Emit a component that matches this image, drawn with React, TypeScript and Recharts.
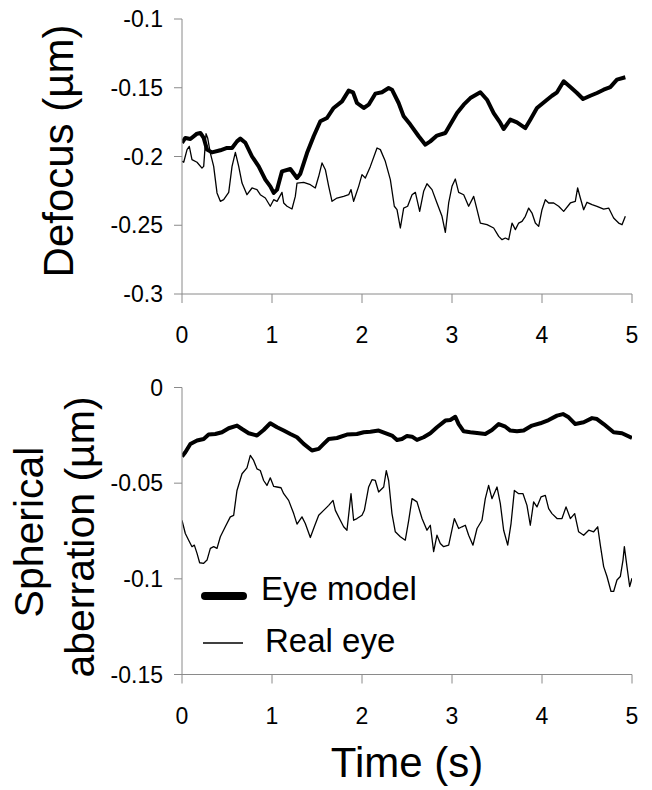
import React from 'react';
import { LineChart, Line, XAxis, YAxis, Legend } from 'recharts';

// ---- Data (time in s, aberrations in µm) ----
const defocusModelTime = [0, 0.037, 0.093, 0.167, 0.204, 0.241, 0.278, 0.333, 0.426, 0.5, 0.556, 0.611, 0.648, 0.704, 0.778, 0.852, 0.926, 0.981, 1.019, 1.056, 1.111, 1.204, 1.278, 1.315, 1.389, 1.463, 1.537, 1.611, 1.685, 1.778, 1.852, 1.9, 1.944, 2.019, 2.074, 2.148, 2.222, 2.296, 2.333, 2.407, 2.463, 2.537, 2.63, 2.704, 2.759, 2.833, 2.926, 2.981, 3.056, 3.13, 3.204, 3.315, 3.389, 3.463, 3.537, 3.574, 3.648, 3.722, 3.815, 3.87, 3.944, 4.056, 4.111, 4.167, 4.241, 4.315, 4.389, 4.456, 4.537, 4.611, 4.685, 4.759, 4.833, 4.926];
const defocusModel = [-0.19, -0.1865, -0.1873, -0.1834, -0.1829, -0.1865, -0.195, -0.197, -0.1955, -0.1938, -0.1938, -0.189, -0.187, -0.19, -0.2, -0.2072, -0.2168, -0.2217, -0.2265, -0.2241, -0.2108, -0.2091, -0.2156, -0.2125, -0.1975, -0.1853, -0.1744, -0.172, -0.1647, -0.1599, -0.1521, -0.1533, -0.1611, -0.1647, -0.1623, -0.1543, -0.1533, -0.1502, -0.1514, -0.1611, -0.1708, -0.1768, -0.1853, -0.1914, -0.189, -0.1848, -0.1829, -0.1768, -0.1684, -0.1623, -0.1575, -0.1533, -0.1587, -0.1684, -0.1756, -0.18, -0.1732, -0.1752, -0.1793, -0.1732, -0.1647, -0.1587, -0.1558, -0.1533, -0.1453, -0.1495, -0.1538, -0.1582, -0.1558, -0.1538, -0.1514, -0.1495, -0.1441, -0.1424];

const defocusRealTime = [0, 0.019, 0.056, 0.081, 0.111, 0.167, 0.222, 0.241, 0.267, 0.285, 0.315, 0.352, 0.389, 0.426, 0.463, 0.519, 0.556, 0.593, 0.63, 0.667, 0.722, 0.778, 0.833, 0.87, 0.926, 0.981, 1.019, 1.056, 1.111, 1.13, 1.167, 1.222, 1.259, 1.278, 1.352, 1.426, 1.481, 1.519, 1.556, 1.593, 1.63, 1.667, 1.722, 1.796, 1.852, 1.878, 1.907, 1.963, 2.0, 2.037, 2.093, 2.167, 2.204, 2.259, 2.315, 2.359, 2.389, 2.426, 2.463, 2.507, 2.556, 2.593, 2.641, 2.685, 2.722, 2.778, 2.833, 2.889, 2.926, 2.963, 3.0, 3.037, 3.074, 3.13, 3.185, 3.241, 3.278, 3.315, 3.389, 3.463, 3.519, 3.556, 3.593, 3.63, 3.667, 3.704, 3.741, 3.778, 3.815, 3.852, 3.889, 3.926, 3.963, 4.0, 4.037, 4.074, 4.13, 4.185, 4.241, 4.315, 4.37, 4.396, 4.426, 4.463, 4.5, 4.556, 4.611, 4.685, 4.741, 4.796, 4.852, 4.889, 4.926];
const defocusReal = [-0.2035, -0.2042, -0.195, -0.1926, -0.2023, -0.2042, -0.2084, -0.2072, -0.1834, -0.1865, -0.1975, -0.2072, -0.2265, -0.2326, -0.2314, -0.2261, -0.2072, -0.197, -0.2072, -0.2193, -0.2278, -0.2229, -0.2241, -0.2278, -0.2302, -0.2362, -0.2314, -0.2326, -0.2261, -0.2338, -0.2362, -0.2382, -0.229, -0.2193, -0.2188, -0.2205, -0.2229, -0.2144, -0.2047, -0.2096, -0.2217, -0.2326, -0.2302, -0.229, -0.2278, -0.2241, -0.2326, -0.2217, -0.2132, -0.2156, -0.2072, -0.1938, -0.195, -0.2035, -0.2168, -0.2362, -0.2387, -0.252, -0.2375, -0.2362, -0.2278, -0.2261, -0.2399, -0.2253, -0.2198, -0.2241, -0.2338, -0.2435, -0.2552, -0.2338, -0.2217, -0.2164, -0.2261, -0.2278, -0.2362, -0.229, -0.2387, -0.2484, -0.2496, -0.252, -0.2581, -0.2605, -0.2593, -0.2605, -0.2484, -0.2532, -0.2484, -0.2472, -0.2435, -0.2375, -0.2411, -0.2484, -0.2508, -0.2387, -0.2314, -0.2338, -0.2338, -0.2362, -0.2399, -0.2338, -0.2326, -0.2229, -0.2302, -0.2387, -0.2333, -0.235, -0.2362, -0.2382, -0.2375, -0.2447, -0.2484, -0.2496, -0.2435];

const sphericalModelTime = [0, 0.037, 0.093, 0.167, 0.241, 0.296, 0.37, 0.444, 0.519, 0.611, 0.667, 0.741, 0.833, 0.907, 0.981, 1.056, 1.13, 1.204, 1.278, 1.352, 1.444, 1.519, 1.574, 1.63, 1.722, 1.833, 1.944, 2.019, 2.093, 2.185, 2.259, 2.333, 2.389, 2.444, 2.5, 2.556, 2.611, 2.685, 2.759, 2.833, 2.926, 2.981, 3.037, 3.074, 3.13, 3.204, 3.278, 3.37, 3.444, 3.519, 3.593, 3.648, 3.722, 3.796, 3.889, 3.981, 4.074, 4.167, 4.233, 4.296, 4.37, 4.463, 4.556, 4.611, 4.685, 4.796, 4.889, 5.0];
const sphericalModel = [-0.0361, -0.0338, -0.0295, -0.0277, -0.0269, -0.0246, -0.0243, -0.0234, -0.0213, -0.0199, -0.0217, -0.0239, -0.0251, -0.0222, -0.0187, -0.0208, -0.0225, -0.0243, -0.026, -0.0295, -0.0329, -0.0321, -0.0295, -0.0269, -0.0264, -0.0246, -0.0243, -0.0234, -0.0231, -0.0225, -0.0238, -0.0251, -0.0274, -0.0269, -0.0253, -0.0257, -0.0274, -0.026, -0.0239, -0.0208, -0.0173, -0.017, -0.0153, -0.0191, -0.0229, -0.0234, -0.0238, -0.0243, -0.0222, -0.0191, -0.0205, -0.0225, -0.0229, -0.0225, -0.0199, -0.0187, -0.017, -0.0147, -0.0139, -0.0156, -0.0191, -0.0182, -0.016, -0.0165, -0.0191, -0.0234, -0.0239, -0.0264];

const sphericalRealTime = [0, 0.037, 0.074, 0.111, 0.137, 0.167, 0.196, 0.241, 0.278, 0.315, 0.352, 0.389, 0.426, 0.481, 0.537, 0.574, 0.611, 0.667, 0.722, 0.759, 0.796, 0.833, 0.87, 0.907, 0.944, 0.981, 1.019, 1.056, 1.1, 1.13, 1.185, 1.241, 1.278, 1.333, 1.37, 1.426, 1.47, 1.519, 1.574, 1.63, 1.678, 1.704, 1.759, 1.796, 1.833, 1.878, 1.907, 1.944, 2.0, 2.026, 2.074, 2.111, 2.148, 2.185, 2.241, 2.27, 2.296, 2.333, 2.37, 2.426, 2.481, 2.519, 2.556, 2.611, 2.667, 2.722, 2.759, 2.796, 2.833, 2.87, 2.907, 2.963, 3.026, 3.074, 3.111, 3.148, 3.185, 3.233, 3.278, 3.333, 3.37, 3.407, 3.444, 3.5, 3.537, 3.574, 3.619, 3.656, 3.693, 3.741, 3.789, 3.833, 3.87, 3.907, 3.944, 3.989, 4.037, 4.074, 4.111, 4.167, 4.222, 4.267, 4.315, 4.363, 4.407, 4.463, 4.519, 4.574, 4.619, 4.648, 4.685, 4.722, 4.767, 4.796, 4.833, 4.87, 4.9, 4.915, 4.944, 4.974, 5.0];
const sphericalReal = [-0.0694, -0.0763, -0.0798, -0.0832, -0.0824, -0.0867, -0.0916, -0.0919, -0.0902, -0.0841, -0.0832, -0.0841, -0.078, -0.0728, -0.0676, -0.0668, -0.0538, -0.0451, -0.042, -0.0355, -0.0381, -0.0425, -0.0434, -0.0486, -0.0512, -0.0472, -0.0517, -0.052, -0.0524, -0.0555, -0.059, -0.0659, -0.0714, -0.0676, -0.0711, -0.0784, -0.0728, -0.0668, -0.0642, -0.0616, -0.059, -0.0642, -0.0694, -0.0728, -0.0746, -0.0555, -0.0694, -0.0685, -0.0668, -0.0642, -0.052, -0.0482, -0.0486, -0.0546, -0.052, -0.0434, -0.0486, -0.0659, -0.0754, -0.078, -0.0798, -0.0694, -0.0581, -0.0598, -0.0685, -0.0746, -0.072, -0.0858, -0.0772, -0.0815, -0.0832, -0.0824, -0.0685, -0.0737, -0.0728, -0.072, -0.0772, -0.0824, -0.0737, -0.0694, -0.0581, -0.0512, -0.0581, -0.052, -0.0607, -0.0746, -0.0824, -0.0711, -0.0538, -0.0555, -0.0555, -0.0616, -0.072, -0.0598, -0.0624, -0.0572, -0.0564, -0.0633, -0.0659, -0.0685, -0.0685, -0.0624, -0.0685, -0.0659, -0.0754, -0.0772, -0.0746, -0.0754, -0.0728, -0.0824, -0.0936, -0.0988, -0.1066, -0.1066, -0.1006, -0.0988, -0.0902, -0.0832, -0.0936, -0.104, -0.0997];

const timeTicks = [0, 1, 2, 3, 4, 5];
const defocusTicks = [-0.3, -0.25, -0.2, -0.15, -0.1];
const sphericalTicks = [-0.15, -0.1, -0.05, 0];
const seriesNames = ['Eye model', 'Real eye'];
const titles = { defocus: 'Defocus (µm)', sa1: 'Spherical', sa2: 'aberration (µm)', time: 'Time (s)' };

const zip = (ts: number[], vs: number[]) => ts.map((t, i) => ({ t, v: vs[i] }));

const FONT = '"Liberation Sans", Arial, Helvetica, sans-serif';
const AXIS = '#8a8a8a';
const tickStyle = { fill: '#000', fontSize: 23, fontFamily: FONT };
const widths: Record<string, number> = { 'Eye model': 4, 'Real eye': 1.3 };
const legendWidths: Record<string, number> = { 'Eye model': 8, 'Real eye': 1.5 };

const renderLegend = (props: any) => {
  const payload = props.payload || [];
  const rows = seriesNames.filter((n) => payload.some((p: any) => p.value === n));
  return (
    <svg width={260} height={100} style={{ display: 'block' }}>
      {rows.map((name, i) => {
        const y = i === 0 ? 26 : 73;
        return (
          <g key={name}>
            <line x1={i === 0 ? 12 : 10} x2={50} y1={y} y2={y} stroke="#000" strokeWidth={legendWidths[name]} strokeLinecap={i === 0 ? 'round' : 'butt'} />
            <text x={i === 0 ? 68 : 72} y={y + (i === 0 ? 4 : 9)} fontSize={33} fontFamily={FONT} fill="#000">{name}</text>
          </g>
        );
      })}
    </svg>
  );
};

function Panel(props: { top: number; height: number; marginTop: number; marginBottom: number; xHeight: number; domain: [number, number]; ticks: number[]; model: { t: number; v: number }[]; real: { t: number; v: number }[]; legend?: boolean }) {
  const { top, height, marginTop, marginBottom, xHeight, domain, ticks, model, real, legend } = props;
  return (
    <div style={{ position: 'absolute', left: 0, top, width: 652, height }}>
      <LineChart width={652} height={height} margin={{ top: marginTop, right: 20, bottom: marginBottom, left: 100 }}>
        <XAxis type="number" dataKey="t" domain={[0, 5]} ticks={timeTicks} interval={0} tickSize={9} tickMargin={24} height={xHeight} stroke={AXIS} tick={tickStyle} allowDataOverflow />
        <YAxis type="number" dataKey="v" domain={domain} ticks={ticks} interval={0} tickSize={8} tickMargin={11} width={82} stroke={AXIS} tick={tickStyle} allowDataOverflow />
        <Line data={model} type="linear" dataKey="v" name={seriesNames[0]} stroke="#000" strokeWidth={widths['Eye model']} strokeLinejoin="round" dot={false} activeDot={false} isAnimationActive={false} />
        <Line data={real} type="linear" dataKey="v" name={seriesNames[1]} stroke="#000" strokeWidth={widths['Real eye']} strokeLinejoin="round" dot={false} activeDot={false} isAnimationActive={false} />
        {legend ? (
          <Legend layout="horizontal" verticalAlign="middle" align="center" content={renderLegend} wrapperStyle={{ position: 'absolute', left: 193, top: 230, width: 260, height: 100 }} />
        ) : null}
      </LineChart>
    </div>
  );
}

export default function App() {
  return (
    <div style={{ position: 'absolute', left: 0, top: 0, width: 652, height: 790, background: '#fff' }}>
      <Panel top={0} height={360} marginTop={19} marginBottom={15} xHeight={51} domain={[-0.3, -0.1]} ticks={defocusTicks} model={zip(defocusModelTime, defocusModel)} real={zip(defocusRealTime, defocusReal)} />
      <Panel top={340} height={410} marginTop={47.5} marginBottom={10} xHeight={65.5} domain={[-0.15, 0]} ticks={sphericalTicks} model={zip(sphericalModelTime, sphericalModel)} real={zip(sphericalRealTime, sphericalReal)} legend />
      <svg width={652} height={790} style={{ position: 'absolute', left: 0, top: 0, pointerEvents: 'none' }}>
        <text x={73} y={151} transform="rotate(-90 73 151)" textAnchor="middle" fontSize={42} fontFamily={FONT} fill="#000">{titles.defocus}</text>
        <text x={43} y={532} transform="rotate(-90 43 532)" textAnchor="middle" fontSize={41} fontFamily={FONT} fill="#000">{titles.sa1}</text>
        <text x={94} y={537} transform="rotate(-90 94 537)" textAnchor="middle" fontSize={41} fontFamily={FONT} fill="#000">{titles.sa2}</text>
        <text x={407} y={777} textAnchor="middle" fontSize={42} fontFamily={FONT} fill="#000">{titles.time}</text>
      </svg>
    </div>
  );
}
